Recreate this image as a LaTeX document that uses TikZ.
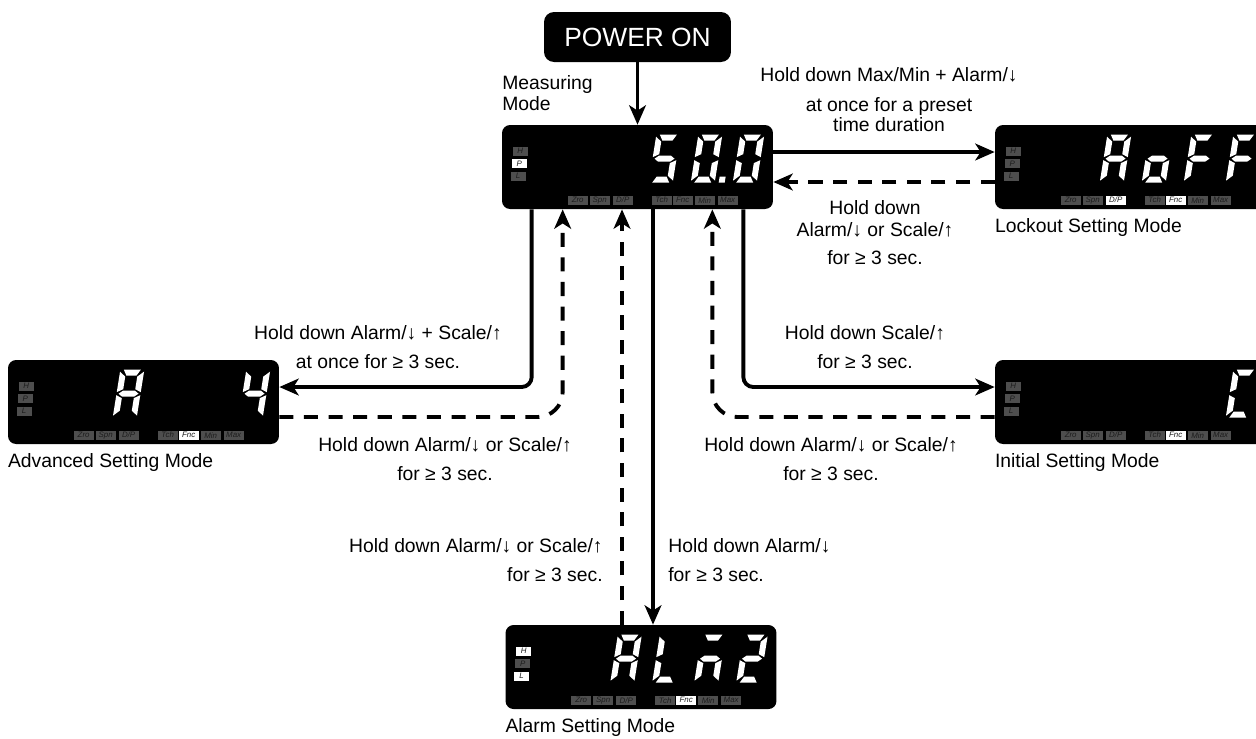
\documentclass[tikz,border=0pt]{standalone}
\usepackage{fontspec}
\setmainfont{Liberation Sans}
\usetikzlibrary{arrows.meta,positioning}
\definecolor{lampgray}{HTML}{4E4E4E}
\definecolor{lamptext}{HTML}{1C1C1C}

% seven segment pieces (pixels, origin at the lower left of a digit)
\newcommand\defseg[2]{\expandafter\def\csname seg-#1\endcsname{#2}}
\newcommand\defglyph[2]{\expandafter\def\csname glyph-#1\endcsname{#2}}
\defseg{a}{(3.5,-48)--(20.5,-48)--(17,-42)--(7,-42)--cycle}
\defseg{b}{(24,-46)--(24,-25.5)--(18,-28.5)--(18,-41)--cycle}
\defseg{c}{(24,-22.5)--(24,-2)--(18,-7)--(18,-19.5)--cycle}
\defseg{d}{(3.5,0)--(20.5,0)--(17,-6)--(7,-6)--cycle}
\defseg{e}{(0,-22.5)--(6,-19.5)--(6,-7)--(0,-2)--cycle}
\defseg{f}{(0,-46)--(6,-41)--(6,-28.5)--(0,-25.5)--cycle}
\defseg{g}{(2,-24)--(6,-27)--(18,-27)--(22,-24)--(18,-21)--(6,-21)--cycle}
\defseg{p}{(28,-6)--(34,-6)--(34,0)--(28,0)--cycle}
\defglyph{5}{a,c,d,f,g}
\defglyph{0}{a,b,c,d,e,f}
\defglyph{0.}{a,b,c,d,e,f,p}
\defglyph{A}{a,b,c,e,f,g}
\defglyph{o}{c,d,e,g}
\defglyph{F}{a,e,f,g}
\defglyph{L}{d,e,f}
\defglyph{m}{a,c,e,g}
\defglyph{2}{a,b,d,e,g}
\defglyph{4}{b,c,f,g}
\defglyph{C}{a,d,e,f}

% digits of a panel: list of offset/glyph
\newcommand\lcdglyphs[2]{%
  \begin{scope}[shift={(#1.north west)}]
    \foreach \pos/\ch in {#2} {
      \edef\seglist{\csname glyph-\ch\endcsname}
      \begin{scope}[shift={(\pos,58)},xslant=0.16]
        \foreach \s in \seglist {\edef\segpath{\csname seg-\s\endcsname}\fill[white] \segpath;}
      \end{scope}}
  \end{scope}}

% indicator lamps of a panel, #2 switches some on
\newcommand\lcdlamps[2]{%
  \begin{scope}[shift={(#1.north west)},#2]
    \foreach \k/\t/\x/\y/\w in {H/H/18.5/26.5/lampv,P/P/17.5/39/lampv,L/L/16.5/51.5/lampv,
        Zro/Zro/76/75.5/lamph,Spn/Spn/98/75.5/lamph,DP/{D/P}/121/75.5/lamph,
        Tch/Tch/160/75.5/lamph,Fnc/Fnc/181/75.5/lamph,Min/Min/203/75.5/lamph,Max/Max/226/75.5/lamph}
      \node[lamp,\w,on \k/.try] at (\x,\y) {\t};
  \end{scope}}

\begin{document}
\begin{tikzpicture}[x=0.02cm,y=-0.02cm,
  display/.style={fill=black,rounded corners=0.16cm,minimum width=5.42cm,minimum height=1.68cm,inner sep=0pt},
  power/.style={fill=black,text=white,rounded corners=0.2cm,minimum width=3.74cm,minimum height=1cm,font=\fontsize{15}{18}\selectfont},
  lamp/.style={inner sep=0pt,minimum height=0.18cm,fill=lampgray,text=lamptext,font=\fontsize{4.5}{5}\selectfont\itshape},
  lampv/.style={minimum width=0.3cm},
  lamph/.style={minimum width=0.4cm},
  lit/.style={fill=white},
  note/.style={font=\fontsize{11}{16.5}\selectfont,align=center,inner sep=0pt},
  mode/.style={font=\fontsize{11}{11.5}\selectfont,inner sep=0pt},
  fwd/.style={line width=2.2pt,-{Stealth[length=11pt,width=9.5pt,inset=3pt]},rounded corners=0.2cm},
  ret/.style={fwd,dash pattern=on 8pt off 6pt,rounded corners=0.5cm}]
  \useasboundingbox (0,0) rectangle (1256,738);

  \node[power] (power) at (637.5,37) {POWER ON};
  \node[display] (main) at (637.5,167) {};
  \node[display] (lock) at (1130.5,167) {};
  \node[display] (adv) at (143.5,402) {};
  \node[display] (init) at (1130.5,402) {};
  \node[display] (alarm) at (641,667) {};

  \lcdlamps{main}{on P/.style=lit}
  \lcdlamps{lock}{on DP/.style=lit,on Fnc/.style=lit}
  \lcdlamps{adv}{on Fnc/.style=lit}
  \lcdlamps{init}{on Fnc/.style=lit}
  \lcdlamps{alarm}{on H/.style=lit,on L/.style=lit,on Fnc/.style=lit}
  \lcdglyphs{main}{147/5,189/0.,231/0}
  \lcdglyphs{lock}{105/A,147/o,189/F,231/F}
  \lcdglyphs{adv}{105/A,231/4}
  \lcdglyphs{init}{231/C}
  \lcdglyphs{alarm}{105/A,147/L,189/m,231/2}

  \node[mode,align=left,anchor=west] (measlbl) at (502,93) {Measuring\\Mode};
  \node[mode,below=5pt of lock.south west,anchor=north west] (locklbl) {Lockout Setting Mode};
  \node[mode,below=5pt of adv.south west,anchor=north west] (advlbl) {Advanced Setting Mode};
  \node[mode,below=5pt of init.south west,anchor=north west] (initlbl) {Initial Setting Mode};
  \node[mode,below=5pt of alarm.south west,anchor=north west] (alarmlbl) {Alarm Setting Mode};

  \coordinate (down) at ([xshift=0.31cm]main.south);
  \coordinate (up) at ([xshift=-0.31cm]main.south);
  \draw[fwd] (power) -- (main);
  \draw[fwd] ([yshift=0.3cm]main.east) -- ([yshift=0.3cm]lock.west);
  \draw[ret] ([yshift=-0.3cm]lock.west) -- ([yshift=-0.3cm]main.east);
  \draw[fwd] ([xshift=0.6cm]main.south west) |- ([yshift=0.3cm]adv.east);
  \draw[ret] ([yshift=-0.3cm]adv.east) -| ([xshift=1.22cm]main.south west);
  \draw[fwd] ([xshift=-0.6cm]main.south east) |- ([yshift=0.3cm]init.west);
  \draw[ret] ([yshift=-0.3cm]init.west) -| ([xshift=-1.22cm]main.south east);
  \draw[fwd] (down) -- (down |- alarm.north);
  \draw[ret] (up |- alarm.north) -- (up);

  \node[note,font=\fontsize{11}{11.5}\selectfont] (locknote) at (889,100)
    {Hold down Max/Min + Alarm/↓\\[5.5pt]at once for a preset\\time duration};
  \node[note,font=\fontsize{11}{12.5}\selectfont] (unlocknote) at (875,233)
    {Hold down\\Alarm/↓ or Scale/↑\\[3.5pt]for ≥ 3 sec.};
  \node[note] (advnote) at (378,347) {Hold down Alarm/↓ + Scale/↑\\at once for ≥ 3 sec.};
  \node[note] (advback) at (445,459) {Hold down Alarm/↓ or Scale/↑\\for ≥ 3 sec.};
  \node[note] (initnote) at (865,347) {Hold down Scale/↑\\for ≥ 3 sec.};
  \node[note] (initback) at (831,459) {Hold down Alarm/↓ or Scale/↑\\for ≥ 3 sec.};
  \node[note,align=right,anchor=east] (alarmback) at (603,560) {Hold down Alarm/↓ or Scale/↑\\for ≥ 3 sec.};
  \node[note,align=left,anchor=west] (alarmnote) at (668,560) {Hold down Alarm/↓\\for ≥ 3 sec.};
\end{tikzpicture}
\end{document}
